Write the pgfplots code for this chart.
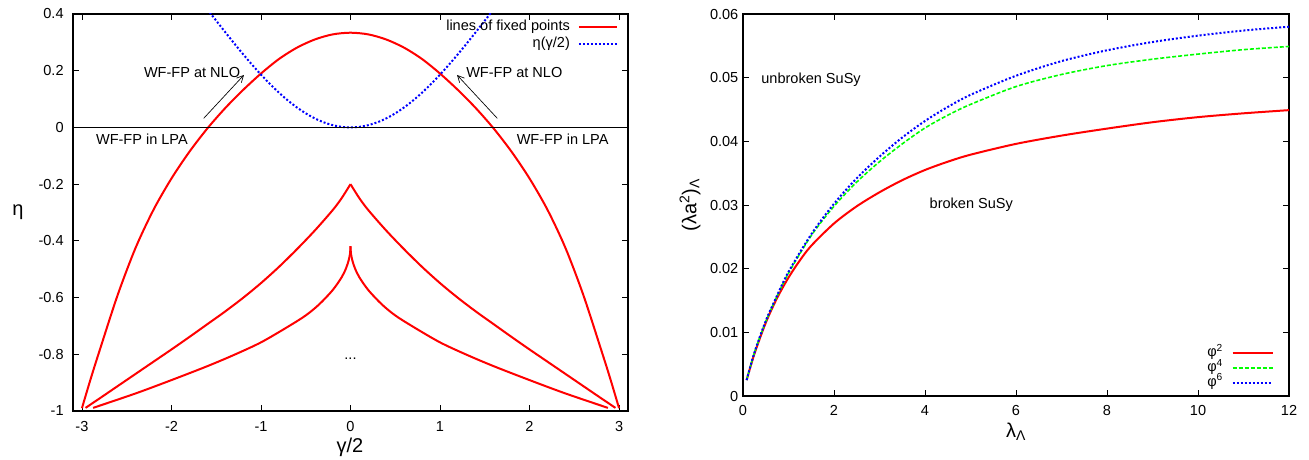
\documentclass[border=0pt]{standalone}
\usepackage{fontspec}
\setmainfont{Liberation Sans}
\usepackage{pgfplots}
\pgfplotsset{compat=1.18}
\usetikzlibrary{arrows.meta}
\newcommand{\tf}{\fontsize{10.9}{13}\selectfont}
\newcommand{\lf}{\fontsize{15}{18}\selectfont}

\pgfplotsset{
  gp/.style={
    scale only axis, anchor=south west,
    tick align=inside, major tick length=4.5pt,
    axis line style={line width=0.9pt},
    every tick/.style={black, line width=0.6pt},
    ticklabel style={font=\tf},
    /pgf/number format/assume math mode=true,
    legend cell align=right, legend plot pos=right,
    clip mode=individual,
  }
}

\begin{document}
\begin{tikzpicture}[x=1pt,y=1pt]
\useasboundingbox (0,0) rectangle (981.75,345);

% ---------------- left panel ----------------
\begin{axis}[gp, at={(54.75pt,36.75pt)}, width=416.25pt, height=297.75pt,
  xmin=-3.1, xmax=3.1, ymin=-1, ymax=0.4,
  xtick={-3,-2,-1,0,1,2,3}, ytick={-1,-0.8,-0.6,-0.4,-0.2,0,0.2,0.4},
  yticklabel style={xshift=-3.5pt}, xticklabel style={yshift=-4pt},
  legend style={draw=none, fill=none, font=\tf, inner sep=0pt,
    at={(axis cs:2.99,0.3845)}, anchor=north east, column sep=5pt,
    nodes={inner sep=1pt, text height=8pt, text depth=2.5pt}},
  legend image code/.code={\draw[#1] (0pt,0pt) -- (28.5pt,0pt);},
]
\addplot[red, line width=1.5pt, smooth] coordinates {
(-3.00,-0.99) (-2.90,-0.884) (-2.80,-0.784) (-2.60,-0.590) (-2.40,-0.424)
(-2.20,-0.290) (-2.00,-0.180) (-1.80,-0.086) (-1.60,-0.004) (-1.40,0.068)
(-1.20,0.132) (-1.00,0.190) (-0.80,0.241) (-0.60,0.281) (-0.40,0.310)
(-0.20,0.328) (0,0.334)
(0.20,0.328) (0.40,0.310) (0.60,0.281) (0.80,0.241) (1.00,0.190)
(1.20,0.132) (1.40,0.068) (1.60,-0.004) (1.80,-0.086) (2.00,-0.180)
(2.20,-0.290) (2.40,-0.424) (2.60,-0.590) (2.80,-0.784) (2.90,-0.884)
(3.00,-0.99)};
\addlegendentry{lines of fixed points}
\addplot[blue, line width=1.5pt, dash pattern=on 1.5pt off 1.5pt, smooth] coordinates {
(-1.6,0.4168) (-1.5,0.3764) (-1.4,0.3362) (-1.3,0.2967) (-1.2,0.2582) (-1.1,0.2213)
(-1.0,0.1862) (-0.9,0.1533) (-0.8,0.1228) (-0.7,0.0952) (-0.6,0.0707) (-0.5,0.0496)
(-0.4,0.0320) (-0.3,0.0181) (-0.2,0.0081) (-0.1,0.0020) (0,0)
(0.1,0.0020) (0.2,0.0081) (0.3,0.0181) (0.4,0.0320) (0.5,0.0496) (0.6,0.0707)
(0.7,0.0952) (0.8,0.1228) (0.9,0.1533) (1.0,0.1862) (1.1,0.2213) (1.2,0.2582)
(1.3,0.2967) (1.4,0.3362) (1.5,0.3764) (1.6,0.4168)};
\addlegendentry{η(γ/2)}
% middle line
\addplot[red, line width=1.5pt, smooth, forget plot] coordinates {
(-2.96,-0.989) (-2.80,-0.955) (-2.60,-0.912) (-2.40,-0.869) (-2.20,-0.826)
(-2.00,-0.783) (-1.80,-0.739) (-1.60,-0.694) (-1.40,-0.649) (-1.20,-0.601)
(-1.00,-0.549) (-0.80,-0.492) (-0.60,-0.430) (-0.40,-0.364) (-0.20,-0.292)
(-0.10,-0.25) (0,-0.20)};
\addplot[red, line width=1.5pt, smooth, forget plot] coordinates {
(0,-0.20) (0.10,-0.25) (0.20,-0.292) (0.40,-0.364) (0.60,-0.430) (0.80,-0.492)
(1.00,-0.549) (1.20,-0.601) (1.40,-0.649) (1.60,-0.694) (1.80,-0.739)
(2.00,-0.783) (2.20,-0.826) (2.40,-0.869) (2.60,-0.912) (2.80,-0.955)
(2.96,-0.989)};
% inner line
\addplot[red, line width=1.5pt, smooth, forget plot] coordinates {
(-2.876,-0.989) (-2.40,-0.938) (-2.00,-0.891) (-1.60,-0.842) (-1.30,-0.802)
(-1.00,-0.758) (-0.70,-0.703) (-0.50,-0.663) (-0.35,-0.624) (-0.20,-0.574)
(-0.10,-0.529) (-0.05,-0.497) (-0.02,-0.468) (-0.005,-0.444) (0,-0.419)};
\addplot[red, line width=1.5pt, smooth, forget plot] coordinates {
(0,-0.419) (0.005,-0.444) (0.02,-0.468) (0.05,-0.497) (0.10,-0.529)
(0.20,-0.574) (0.35,-0.624) (0.50,-0.663) (0.70,-0.703) (1.00,-0.758)
(1.30,-0.802) (1.60,-0.842) (2.00,-0.891) (2.40,-0.938) (2.876,-0.989)};
% zero line
\addplot[black, line width=0.7pt, forget plot] coordinates {(-3.1,0) (3.1,0)};
\draw[-{Straight Barb[length=5pt,width=5pt]}, line width=0.5pt] (axis cs:-1.64,0.032) -- (axis cs:-1.19,0.185);
\draw[-{Straight Barb[length=5pt,width=5pt]}, line width=0.5pt] (axis cs:1.64,0.032) -- (axis cs:1.19,0.185);
\node[font=\tf] at (axis cs:-1.77,0.195) {WF-FP at NLO};
\node[font=\tf] at (axis cs:1.83,0.195) {WF-FP at NLO};
\node[font=\tf] at (axis cs:-2.33,-0.041) {WF-FP in LPA};
\node[font=\tf] at (axis cs:2.37,-0.041) {WF-FP in LPA};
\node[font=\tf] at (axis cs:0,-0.815) {...};
\end{axis}

% ---------------- right panel ----------------
\begin{axis}[gp, at={(557.25pt,48pt)}, width=409.5pt, height=286.5pt,
  xmin=0, xmax=12, ymin=0, ymax=0.06,
  xtick={0,2,4,6,8,10,12}, ytick={0,0.01,0.02,0.03,0.04,0.05,0.06},
  scaled y ticks=false,
  yticklabel style={/pgf/number format/fixed, /pgf/number format/precision=2},
  xticklabel style={yshift=-3.5pt},
  legend style={draw=none, fill=none, font=\tf, inner sep=0pt,
    at={(axis cs:11.67,0.0009)}, anchor=south east, column sep=5.5pt,
    nodes={inner sep=1pt, text height=7pt, text depth=2pt}},
  legend image code/.code={\draw[#1] (0pt,0pt) -- (30pt,0pt);},
]
\addplot[red, line width=1.5pt, smooth] coordinates {
(0.08,0.0025) (0.25,0.0066) (0.5,0.0115) (0.75,0.0154) (1.0,0.0186) (1.25,0.0213)
(1.5,0.0236) (2.0,0.0271) (2.5,0.0298) (3.0,0.0320) (3.5,0.0339) (4.0,0.0355)
(4.5,0.0368) (5.0,0.0379) (6.0,0.0396) (7.0,0.0409) (8.0,0.0420) (9.0,0.0430)
(10.0,0.0438) (11.0,0.0444) (12.0,0.0449)};
\addlegendentry{φ\textsuperscript{2}}
\addplot[green, line width=1.2pt, dash pattern=on 3pt off 1.5pt, smooth] coordinates {
(0.08,0.0025) (0.25,0.0068) (0.5,0.0117) (0.75,0.0157) (1.0,0.0193) (1.5,0.0252)
(2.0,0.0298) (2.5,0.0336) (3.0,0.0368) (3.5,0.0396) (4.0,0.0421) (4.5,0.0441)
(5.0,0.0458) (6.0,0.0486) (7.0,0.0505) (8.0,0.0519) (9.0,0.0529) (10.0,0.0537)
(11.0,0.0544) (12.0,0.0549)};
\addlegendentry{φ\textsuperscript{4}}
\addplot[blue, line width=1.5pt, dash pattern=on 1.5pt off 1.5pt, smooth] coordinates {
(0.08,0.0025) (0.25,0.0068) (0.5,0.0118) (0.75,0.0158) (1.0,0.0195) (1.5,0.0254)
(2.0,0.0302) (2.5,0.0342) (3.0,0.0376) (3.5,0.0406) (4.0,0.0432) (4.5,0.0454)
(5.0,0.0473) (6.0,0.0503) (7.0,0.0526) (8.0,0.0543) (9.0,0.0556) (10.0,0.0566)
(11.0,0.0574) (12.0,0.0580)};
\addlegendentry{φ\textsuperscript{6}}
\node[font=\tf, anchor=west] at (axis cs:0.3,0.0496) {unbroken SuSy};
\node[font=\tf, anchor=west] at (axis cs:4.0,0.030) {broken SuSy};
\end{axis}

% axis labels
\node[font=\lf] at (13.5,186) {η};
\node[font=\lf] at (262.5,9.5) {γ/2};
\node[font=\lf, rotate=90] at (517.5,191.25) {(λa\textsuperscript{2})\textsubscript{Λ}};
\node[font=\lf] at (762,21) {λ\textsubscript{Λ}};
\end{tikzpicture}
\end{document}
